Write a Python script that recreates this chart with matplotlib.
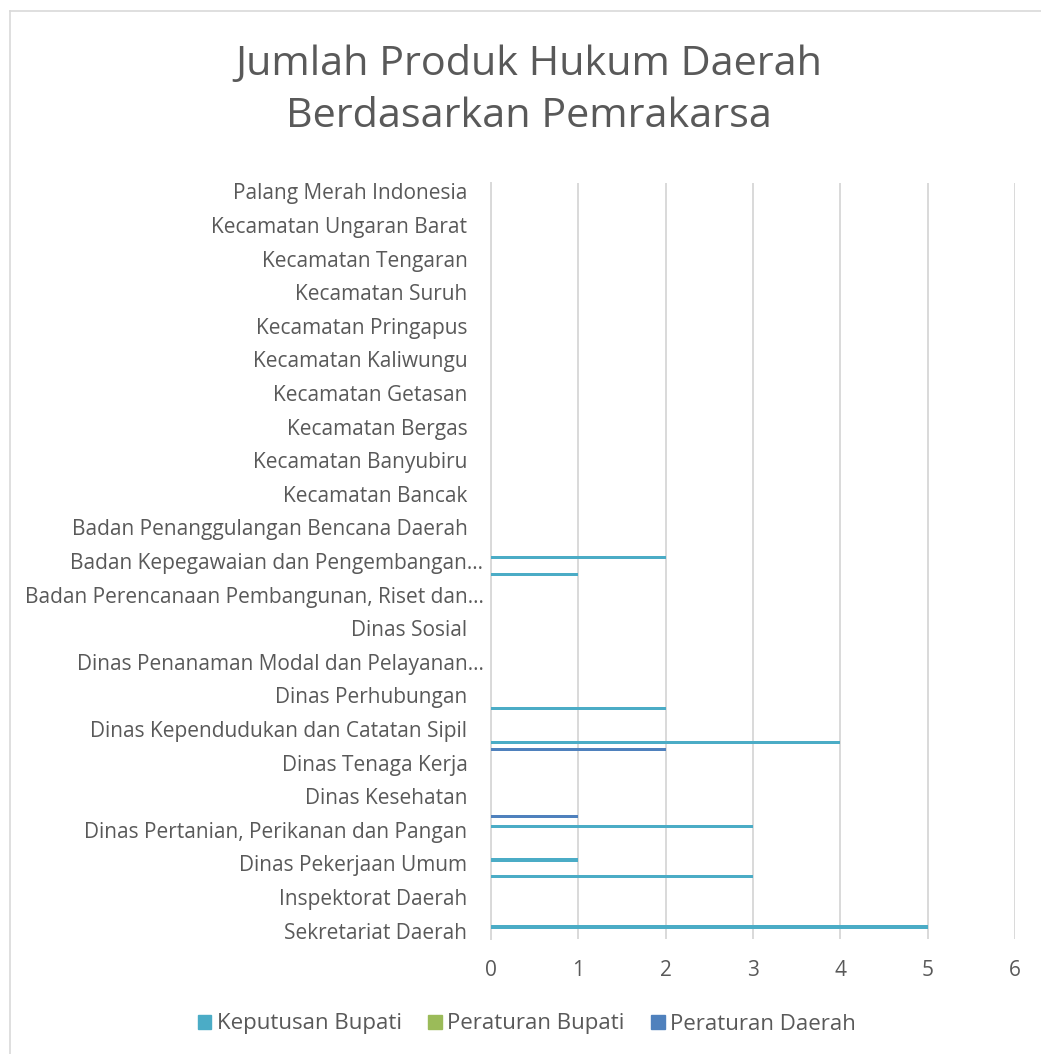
import numpy as np
import matplotlib.pyplot as plt
from matplotlib.lines import Line2D
from matplotlib.patches import Patch
from matplotlib.transforms import ScaledTranslation

plt.rcParams['font.family'] = ['Open Sans', 'DejaVu Sans']

# 45 categories, bottom to top; Excel only shows every second label
n_cat = 45
shown_labels = [
    "Sekretariat Daerah",
    "Inspektorat Daerah",
    "Dinas Pekerjaan Umum",
    "Dinas Pertanian, Perikanan dan Pangan",
    "Dinas Kesehatan",
    "Dinas Tenaga Kerja",
    "Dinas Kependudukan dan Catatan Sipil",
    "Dinas Perhubungan",
    "Dinas Penanaman Modal dan Pelayanan…",
    "Dinas Sosial",
    "Badan Perencanaan Pembangunan, Riset dan…",
    "Badan Kepegawaian dan Pengembangan…",
    "Badan Penanggulangan Bencana Daerah",
    "Kecamatan Bancak",
    "Kecamatan Banyubiru",
    "Kecamatan Bergas",
    "Kecamatan Getasan",
    "Kecamatan Kaliwungu",
    "Kecamatan Pringapus",
    "Kecamatan Suruh",
    "Kecamatan Tengaran",
    "Kecamatan Ungaran Barat",
    "Palang Merah Indonesia",
]

keputusan_bupati = [5, 0, 0, 3, 1, 0, 3, 0, 0, 0, 0, 4, 0, 2, 0, 0, 0, 0, 0, 0, 0, 1, 2,
                    0, 0, 0, 0, 0, 0, 0, 0, 0, 0, 0, 0, 0, 0, 0, 0, 0, 0, 0, 0, 0, 0]
peraturan_bupati = [0] * n_cat
peraturan_daerah = [0, 0, 0, 0, 0, 0, 0, 1, 0, 0, 0, 2, 0, 0, 0, 0, 0, 0, 0, 0, 0, 0, 0,
                    0, 0, 0, 0, 0, 0, 0, 0, 0, 0, 0, 0, 0, 0, 0, 0, 0, 0, 0, 0, 0, 0]

series_names = ["Keputusan Bupati", "Peraturan Bupati", "Peraturan Daerah"]
title_lines = ["Jumlah Produk Hukum Daerah", "Berdasarkan Pemrakarsa"]
colors = ["#4bacc6", "#9bbb59", "#4f81bd"]
text_col = "#595959"
grid_col = "#d9d9d9"

W, H = 1041, 1054
fig = plt.figure(figsize=(W / 100, H / 100), dpi=100)
fig.patch.set_facecolor("white")

# chart border (only left and top visible in the crop)
fig.add_artist(Line2D([9.5 / W, 9.5 / W], [0, 1 - 10.5 / H], transform=fig.transFigure,
                      color=grid_col, lw=1.2))
fig.add_artist(Line2D([9.5 / W, 1], [1 - 10.5 / H, 1 - 10.5 / H], transform=fig.transFigure,
                      color=grid_col, lw=1.2))

ax = fig.add_axes([491 / W, (H - 939) / H, (1015 - 491) / W, (939 - 183) / H])

y = np.arange(n_cat)
bh = 1 / (3 + 1.82)
ax.barh(y + bh, keputusan_bupati, height=bh, color=colors[0], zorder=3)
ax.barh(y, peraturan_bupati, height=bh, color=colors[1], zorder=3)
ax.barh(y - bh, peraturan_daerah, height=bh, color=colors[2], zorder=3)

ax.set_xlim(0, 6)
ax.set_ylim(-0.5, n_cat - 0.5)
ax.set_xticks(range(0, 7))
ax.set_yticks(np.arange(0, n_cat, 2))
ax.set_yticklabels(shown_labels)
ax.grid(axis="x", color=grid_col, lw=1.4, zorder=0)
for s in ["top", "right", "bottom"]:
    ax.spines[s].set_visible(False)
ax.spines["left"].set_color(grid_col)
ax.spines["left"].set_linewidth(1.4)
ax.tick_params(axis="both", length=0, colors=text_col, labelsize=15)
ax.tick_params(axis="y", pad=17)
ax.tick_params(axis="x", pad=15)

for lab in ax.get_yticklabels():
    if lab.get_text().endswith("…"):
        lab.set_transform(lab.get_transform() + ScaledTranslation(16 / 100, 0, fig.dpi_scale_trans))

# title, one baseline per line
for line, base in zip(title_lines, [75, 127]):
    fig.text(529 / W, 1 - base / H, line, ha="center", va="baseline",
             fontsize=29.8, color=text_col)

handles = [Patch(color=c) for c in colors]
fig.legend(handles, series_names, loc="center", bbox_to_anchor=(527 / W, 1 - 1024 / H),
           ncol=3, frameon=False, fontsize=16, labelcolor=text_col, handlelength=0.6,
           handleheight=0.6, handletextpad=0.25, columnspacing=1.2)

fig.savefig("out.png", dpi=100)
